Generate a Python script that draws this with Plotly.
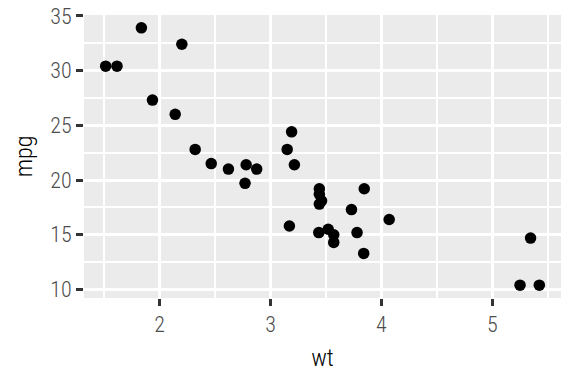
import plotly.graph_objects as go

wt = [2.620, 2.875, 2.320, 3.215, 3.440, 3.460, 3.570, 3.190, 3.150, 3.440,
      3.440, 4.070, 3.730, 3.780, 5.250, 5.424, 5.345, 2.200, 1.615, 1.835,
      2.465, 3.520, 3.435, 3.840, 3.845, 1.935, 2.140, 1.513, 3.170, 2.770,
      3.570, 2.780]
mpg = [21.0, 21.0, 22.8, 21.4, 18.7, 18.1, 14.3, 24.4, 22.8, 19.2,
       17.8, 16.4, 17.3, 15.2, 10.4, 10.4, 14.7, 32.4, 30.4, 33.9,
       21.5, 15.5, 15.2, 13.3, 19.2, 27.3, 26.0, 30.4, 15.8, 19.7,
       15.0, 21.4]

x_ticks = [2, 3, 4, 5]
y_ticks = [10, 15, 20, 25, 30, 35]
x_minor = [1.5, 2.5, 3.5, 4.5, 5.5]
y_minor = [12.5, 17.5, 22.5, 27.5, 32.5]

def expand(vals, f=0.05):
    lo, hi = min(vals), max(vals)
    d = (hi - lo) * f
    return [lo - d, hi + d]

FONT = "Roboto Condensed"

fig = go.Figure(go.Scatter(
    x=wt, y=mpg, mode="markers",
    marker=dict(color="black", size=11.5, line=dict(width=0)),
))

axis_common = dict(
    showgrid=True, gridcolor="white", gridwidth=3,
    zeroline=False, showline=False, automargin=False,
    ticks="outside", ticklen=7, tickwidth=2.6, tickcolor="#333333",
    tickfont=dict(family=FONT, size=22, weight=300, color="#4D4D4D"),
)

fig.update_layout(
    width=576, height=384,
    margin=dict(l=84, r=15, t=15, b=86),
    paper_bgcolor="white", plot_bgcolor="#EBEBEB",
    showlegend=False,
    font=dict(family=FONT),
    xaxis=dict(
        range=expand(wt), tickvals=x_ticks, ticktext=[str(v) for v in x_ticks],
        title=dict(text="wt", font=dict(family=FONT, size=24, weight=300, color="black"), standoff=12),
        minor=dict(showgrid=True, gridcolor="white", gridwidth=1.6, tickvals=x_minor, ticks=""),
        **axis_common,
    ),
    yaxis=dict(
        range=expand(mpg), tickvals=y_ticks, ticktext=[str(v) for v in y_ticks],
        title=dict(text="mpg", font=dict(family=FONT, size=24, weight=300, color="black"), standoff=10),
        minor=dict(showgrid=True, gridcolor="white", gridwidth=1.6, tickvals=y_minor, ticks=""),
        **axis_common,
    ),
)

fig.write_html("out.html")
